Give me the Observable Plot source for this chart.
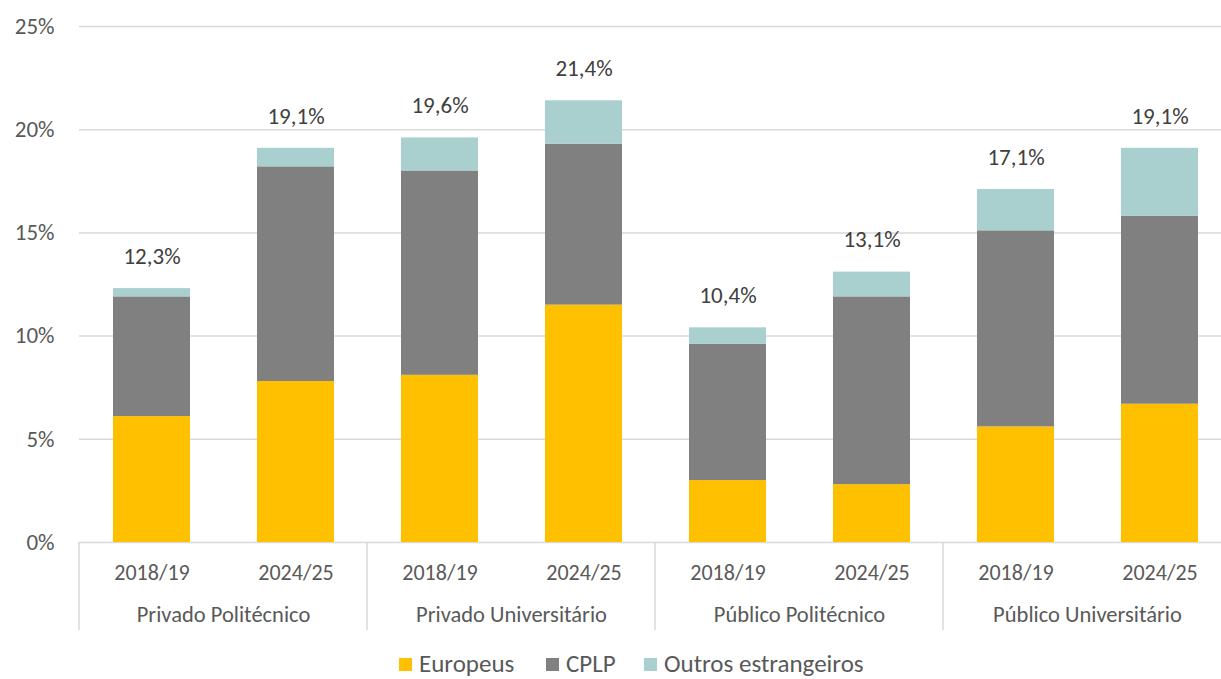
<!DOCTYPE html>
<html><head><meta charset="utf-8">
<script src="https://cdn.jsdelivr.net/npm/d3@7"></script>
<script src="https://cdn.jsdelivr.net/npm/@observablehq/plot@0.6"></script>
<style>
body{margin:0;background:#fff;overflow:hidden;font-family:Calibri,Carlito,Lato,sans-serif;}
#wrap{position:relative;width:1221px;height:679px;overflow:hidden;}
#chart{position:absolute;left:0;top:0;}
#chart svg{max-width:none !important;}
#legend{position:absolute;top:651px;left:0;width:1221px;height:26px;font-size:25px;color:#595959;}
.item{position:absolute;top:0;display:flex;align-items:center;white-space:nowrap;line-height:26px;height:26px;}
.sw{width:13px;height:13px;margin-right:7px;}
</style></head><body><div id="wrap"><div id="chart"></div><div id="legend"></div></div>
<script>
// ---- data ----
const groups = ["Privado Politécnico", "Privado Universitário", "Público Politécnico", "Público Universitário"];
const years = ["2018/19", "2024/25"];
const seriesNames = ["Europeus", "CPLP", "Outros estrangeiros"];
const seriesColors = ["#FFC000", "#808080", "#A9CFCE"];
const europeus = [6.1, 7.8, 8.1, 11.5, 3.0, 2.8, 5.6, 6.7];
const cplp     = [5.8, 10.4, 9.9, 7.8, 6.6, 9.1, 9.5, 9.1];
const outros   = [0.4, 0.9, 1.6, 2.1, 0.8, 1.2, 2.0, 3.3];
const totals   = [12.3, 19.1, 19.6, 21.4, 10.4, 13.1, 17.1, 19.1];
const yTicks = [0, 5, 10, 15, 20, 25];

// ---- build tables ----
const seriesValues = [europeus, cplp, outros];
const rows = [];
const totalRows = [];
groups.forEach((g, gi) => years.forEach((yr, yi) => {
  const i = gi * years.length + yi;
  seriesNames.forEach((s, si) => rows.push({group: g, year: yr, serie: s, value: seriesValues[si][i]}));
  totalRows.push({group: g, year: yr, total: totals[i]});
}));

const font = "Calibri, Carlito, Lato, sans-serif";
const plot = Plot.plot({
  width: 1232,
  height: 640,
  marginTop: 26,
  marginBottom: 98,
  marginLeft: 78,
  marginRight: 0,
  style: {fontFamily: font, fontSize: "22px", color: "#595959", background: "transparent", overflow: "visible", maxWidth: "none"},
  fx: {domain: groups, padding: 0, label: null},
  x: {domain: years, paddingInner: 0.466, paddingOuter: 0.233, label: null},
  y: {domain: [0, 25], label: null},
  color: {domain: seriesNames, range: seriesColors},
  marks: [
    Plot.ruleY(yTicks, {y: d => d, stroke: "#D9D9D9", strokeWidth: 1.5}),
    Plot.barY(rows, {fx: "group", x: "year", y: "value", fill: "serie"}),
    Plot.text(totalRows, {fx: "group", x: "year", y: "total",
      text: d => d.total.toFixed(1).replace(".", ",") + "%",
      dy: -32, fill: "#404040", fontSize: 23}),
    Plot.axisY({ticks: yTicks, tickSize: 0, tickPadding: 25, tickFormat: d => d + "%", label: null, fontSize: 23}),
    Plot.axisX({tickSize: 0, tickPadding: 22, label: null, fontSize: 22}),
    Plot.axisFx({anchor: "bottom", tickSize: 0, tickPadding: 64, label: null, fontSize: 22.5})
  ]
});
document.getElementById("chart").appendChild(plot);

// group separators on the category axis, from the facet scale
const fxs = plot.scale("fx");
const ys = plot.scale("y");
const y0 = ys.apply(0);
const svg = d3.select(plot);
const bounds = groups.map(g => fxs.apply(g)).concat([fxs.apply(groups[groups.length - 1]) + fxs.bandwidth]);
bounds.forEach(x => {
  svg.append("line").attr("x1", x).attr("x2", x).attr("y1", y0).attr("y2", y0 + 88)
    .attr("stroke", "#D9D9D9").attr("stroke-width", 1.5);
});

// legend
const legend = d3.select("#legend");
const legendLeft = [399, 546, 644];
seriesNames.forEach((s, i) => {
  const it = legend.append("div").attr("class", "item").style("left", legendLeft[i] + "px");
  it.append("div").attr("class", "sw").style("background", seriesColors[i]);
  it.append("span").text(s);
});
</script></body></html>
